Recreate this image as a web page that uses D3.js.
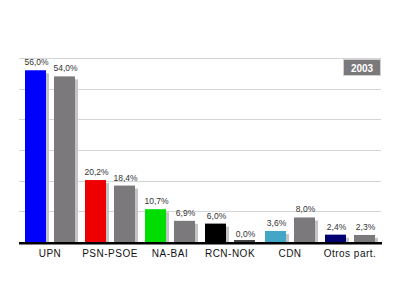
<!DOCTYPE html>
<html>
<head>
<meta charset="utf-8">
<script src="https://cdn.jsdelivr.net/npm/d3@7.9.0/dist/d3.min.js"></script>
<style>
  body { margin: 0; background: #fff; }
  svg { display: block; font-family: Arial, "Liberation Sans", sans-serif; }
</style>
</head>
<body>
<div id="chart"></div>
<script>
// partidos y resultados (2003 vs anterior)
const parties = ['UPN', 'PSN-PSOE', 'NA-BAI', 'RCN-NOK', 'CDN', 'Otros part.'];
const current = [56.0, 20.2, 10.7, 6.0, 3.6, 2.4];
const previous = [54.0, 18.4, 6.9, 0.0, 8.0, 2.3];
const partyColors = ['#0000ff', '#ee0000', '#00dd00', '#000000', '#44a6c6', '#000070'];
const yTicks = [0, 10, 20, 30, 40, 50, 60];
const yearLabel = '2003';

const width = 400;
const height = 300;

const svg = d3
  .select('#chart')
  .append('svg')
  .attr('width', width)
  .attr('height', height);

const x = d3
  .scaleBand()
  .domain(parties)
  .range([25, 385])
  .paddingInner(0)
  .paddingOuter(0);

const yScale = d3.scaleLinear().domain([0, 60]).range([242, 58]);

const barW = 21;
const gap = 29;

// gridlines
svg
  .append('g')
  .attr('class', 'grid')
  .selectAll('line')
  .data(yTicks.slice(1))
  .join('line')
  .attr('x1', 19)
  .attr('x2', 381)
  .attr('y1', (d) => Math.round(yScale(d)) + 0.5)
  .attr('y2', (d) => Math.round(yScale(d)) + 0.5)
  .attr('stroke', '#d4d4d4')
  .attr('stroke-width', 1);

const rows = parties.map((p, i) => ({ p, i, cur: current[i], prev: previous[i] }));

const groups = svg
  .append('g')
  .selectAll('g')
  .data(rows)
  .join('g')
  .attr('transform', (d) => `translate(${x(d.p)},0)`);

function drawBar(g, off, val, color) {
  const top = yScale(val);
  const h = Math.max(yScale(0) - top, 0);
  if (h > 0) {
    // sombra
    g.append('rect')
      .attr('x', off + barW)
      .attr('y', top + 3)
      .attr('width', 3)
      .attr('height', Math.max(h - 3, 0))
      .attr('fill', '#c4c4c4');
    g.append('rect')
      .attr('x', off)
      .attr('y', top)
      .attr('width', barW)
      .attr('height', h)
      .attr('fill', color);
  } else {
    g.append('rect')
      .attr('x', off)
      .attr('y', yScale(0) - 2)
      .attr('width', barW)
      .attr('height', 2)
      .attr('fill', '#444');
  }
  g.append('text')
    .attr('x', off + barW / 2 + 1)
    .attr('y', top - 5)
    .attr('text-anchor', 'middle')
    .attr('font-size', 8.5)
    .attr('fill', '#333')
    .text(val.toFixed(1).replace('.', ',') + '%');
}

groups.each(function (d) {
  const g = d3.select(this);
  drawBar(g, 0, d.cur, partyColors[d.i]);
  drawBar(g, gap, d.prev, '#7b797b');
});

// eje base
svg
  .append('rect')
  .attr('x', 19)
  .attr('y', 242)
  .attr('width', 363)
  .attr('height', 2.5)
  .attr('fill', '#000');

// etiquetas de categoria
svg
  .append('g')
  .selectAll('text')
  .data(parties)
  .join('text')
  .attr('x', (d) => x(d) + 25)
  .attr('y', 257)
  .attr('text-anchor', 'middle')
  .attr('font-size', 10)
  .attr('letter-spacing', 0.5)
  .attr('fill', '#111')
  .text((d) => d);

// caja del año
svg
  .append('rect')
  .attr('x', 343.5)
  .attr('y', 59.5)
  .attr('width', 37)
  .attr('height', 16)
  .attr('fill', '#7b797b')
  .attr('stroke', '#d0d0d0');

svg
  .append('text')
  .attr('x', 362)
  .attr('y', 71.5)
  .attr('text-anchor', 'middle')
  .attr('font-size', 10)
  .attr('font-weight', 'bold')
  .attr('fill', '#fff')
  .text(yearLabel);
</script>
</body>
</html>
